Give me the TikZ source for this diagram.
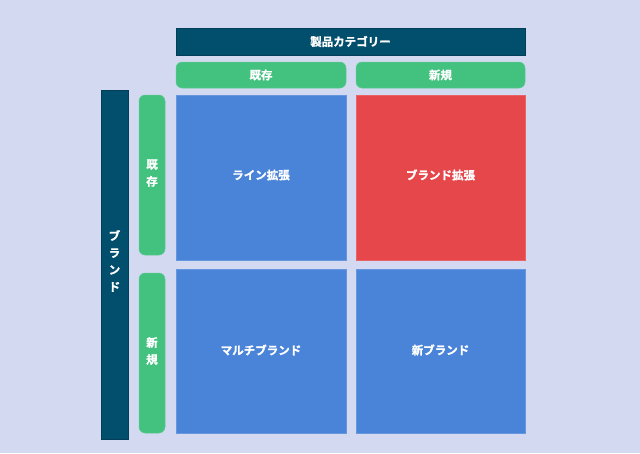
\documentclass[tikz,border=0pt]{standalone}
\usepackage{fontspec}
\newfontfamily\jp{Noto Sans CJK JP}[BoldFont={Noto Sans CJK JP Bold},BoldFeatures={FakeBold=1.2}]
\definecolor{bg}{HTML}{D3D9F1}
\definecolor{navy}{HTML}{024E6D}
\definecolor{grn}{HTML}{43C17F}
\definecolor{blu}{HTML}{4A84D8}
\definecolor{rd}{HTML}{E5474B}
\tikzset{
  x=1pt,y=-1pt,
  lbl/.style={text=white,font=\jp\bfseries\fontsize{11.5}{17}\selectfont,align=center,inner sep=0pt},
  navybox/.style={fill=navy,draw=navy!80!black,line width=0.6pt},
  grnbox/.style={fill=grn,draw=grn!85!white,line width=0.5pt,rounded corners=6pt},
  cell/.style={draw=#1!85!white,line width=0.6pt,fill=#1},
}
\begin{document}
\begin{tikzpicture}
\useasboundingbox[fill=bg] (0,0) rectangle (640,453);
% top header
\draw[navybox] (176,28) rectangle (525,55);
\node[lbl] (top) at (350.5,41.5) {製品カテゴリー};
% column headers
\draw[grnbox] (176,62) rectangle (346,88);
\node[lbl] (c1) at (261,75) {既存};
\draw[grnbox] (356,62) rectangle (525,88);
\node[lbl] (c2) at (440.5,75) {新規};
% left bar
\draw[navybox] (101,90) rectangle (128,439);
\node[lbl] (left) at (114.5,261) {ブ\\ラ\\ン\\ド};
% row headers
\draw[grnbox] (139,95) rectangle (165,255);
\node[lbl] (r1) at (152,173) {既\\存};
\draw[grnbox] (139,273) rectangle (165,433);
\node[lbl] (r2) at (152,351) {新\\規};
% cells
\draw[cell=blu] (176,95) rectangle (346,260);
\node[lbl] (a) at (261,175) {ライン拡張};
\draw[cell=rd] (356,95) rectangle (525,260);
\node[lbl] (b) at (440.5,175) {ブランド拡張};
\draw[cell=blu] (176,269) rectangle (346,433);
\node[lbl] (c) at (261,350) {マルチブランド};
\draw[cell=blu] (356,269) rectangle (525,433);
\node[lbl] (d) at (440.5,350) {新ブランド};
\end{tikzpicture}
\end{document}
